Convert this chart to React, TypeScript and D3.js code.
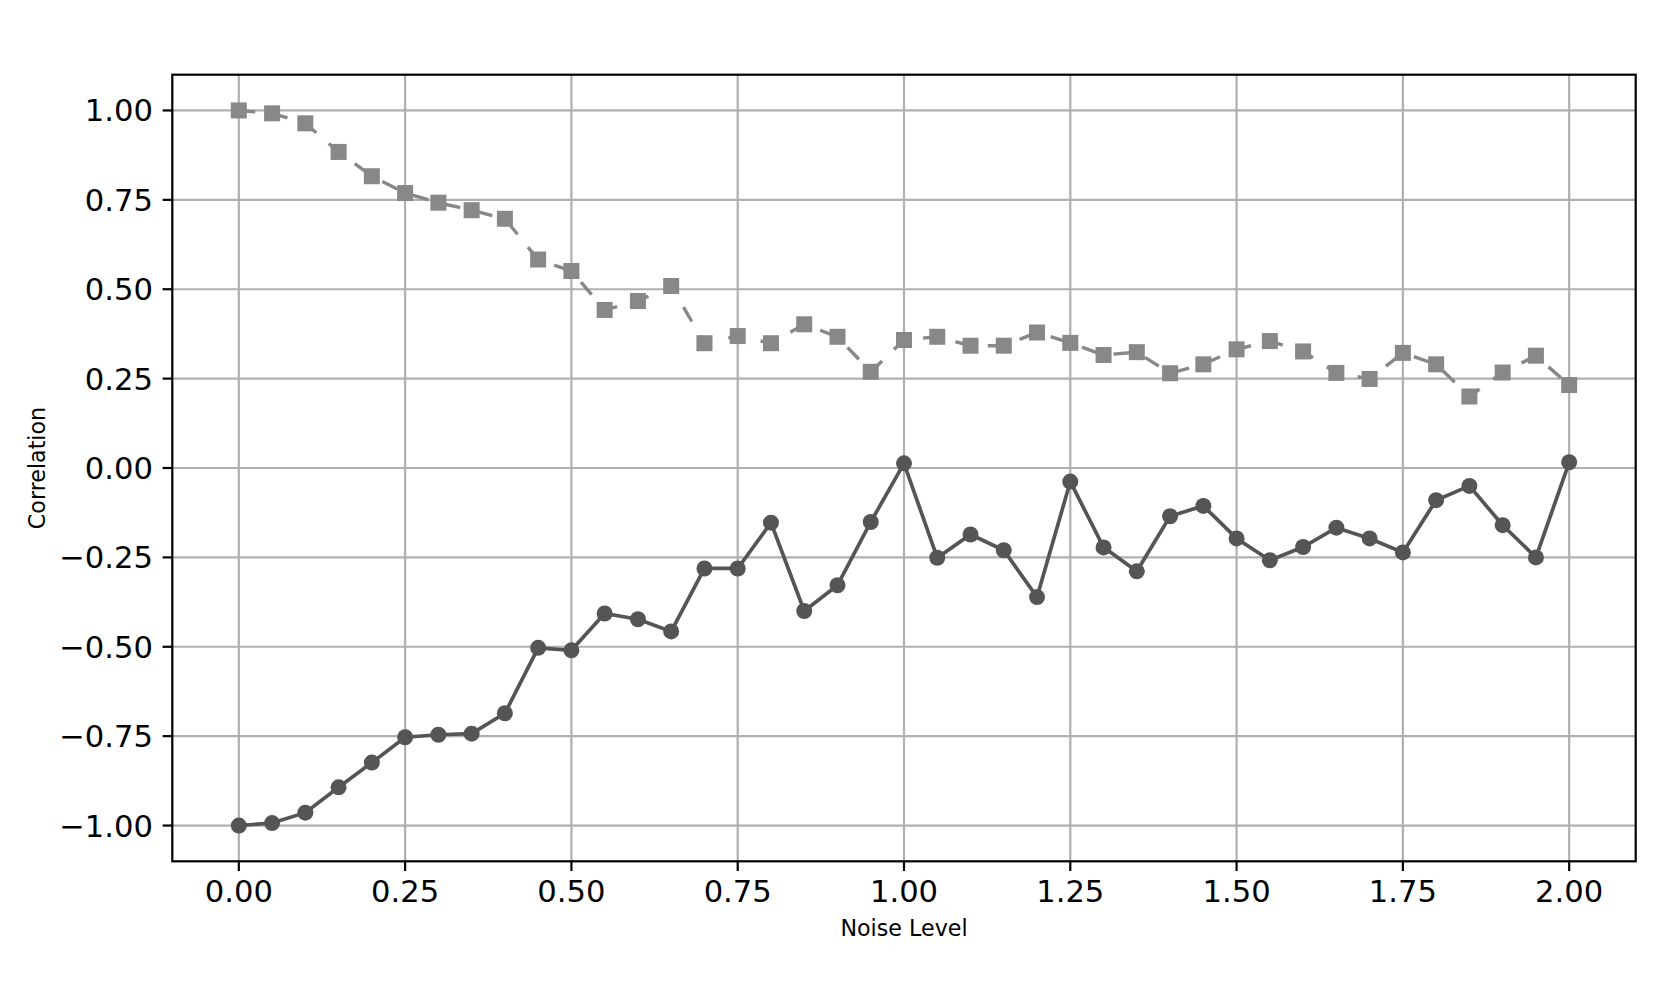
import React from "react";
import * as d3 from "d3";

const noiseLevels: number[] = [
  0.0, 0.05, 0.1, 0.15, 0.2, 0.25, 0.3, 0.35, 0.4, 0.45, 0.5, 0.55, 0.6, 0.65, 0.7, 0.75, 0.8, 0.85, 0.9, 0.95,
  1.0, 1.05, 1.1, 1.15, 1.2, 1.25, 1.3, 1.35, 1.4, 1.45, 1.5, 1.55, 1.6, 1.65, 1.7, 1.75, 1.8, 1.85, 1.9, 1.95, 2.0,
];

const squareSeries: number[] = [
  1.0, 0.992, 0.964, 0.884, 0.816, 0.769, 0.742, 0.721, 0.697, 0.583, 0.551, 0.442, 0.467, 0.509, 0.349, 0.369,
  0.349, 0.402, 0.367, 0.269, 0.358, 0.367, 0.342, 0.342, 0.379, 0.35, 0.316, 0.324, 0.265, 0.29, 0.332, 0.355,
  0.326, 0.266, 0.249, 0.322, 0.29, 0.2, 0.267, 0.314, 0.232,
];

const circleSeries: number[] = [
  -1.0, -0.993, -0.964, -0.893, -0.824, -0.753, -0.746, -0.743, -0.686, -0.503, -0.51, -0.407, -0.423, -0.457,
  -0.281, -0.281, -0.153, -0.4, -0.328, -0.151, 0.013, -0.251, -0.186, -0.23, -0.361, -0.038, -0.222, -0.289,
  -0.135, -0.106, -0.197, -0.258, -0.221, -0.167, -0.197, -0.236, -0.09, -0.05, -0.16, -0.25, 0.016,
];

const xTicks: number[] = [0, 0.25, 0.5, 0.75, 1.0, 1.25, 1.5, 1.75, 2.0];
const yTicks: number[] = [-1.0, -0.75, -0.5, -0.25, 0.0, 0.25, 0.5, 0.75, 1.0];

const xLabel = "Noise Level";
const yLabel = "Correlation";

const W = 1661;
const H = 997;
const left = 172.3;
const right = 1635.7;
const top = 74.7;
const bottom = 861.3;

const font = "'DejaVu Sans', sans-serif";

function fmt(v: number): string {
  const s = v.toFixed(2);
  return v < 0 ? "\u2212" + s.slice(1) : s;
}

export default function App() {
  const x = d3.scaleLinear().domain([-0.1, 2.1]).range([left, right]);
  const y = d3.scaleLinear().domain([-1.1, 1.1]).range([bottom, top]);

  const line = d3
    .line<[number, number]>()
    .x((d) => x(d[0]))
    .y((d) => y(d[1]));

  const sqData: [number, number][] = noiseLevels.map((n, i) => [n, squareSeries[i]]);
  const ciData: [number, number][] = noiseLevels.map((n, i) => [n, circleSeries[i]]);

  const sq = 16;

  return (
    <svg
      width={W}
      height={H}
      style={{ position: "absolute", left: 0, top: 0, display: "block", background: "#fff" }}
    >
      <rect x={0} y={0} width={W} height={H} fill="#fff" />
      <defs>
        <clipPath id="plotclip">
          <rect x={left} y={top} width={right - left} height={bottom - top} />
        </clipPath>
      </defs>
      {/* grid */}
      <g stroke="#b0b0b0" strokeWidth={2.2}>
        {xTicks.map((t) => (
          <line key={"gx" + t} x1={x(t)} x2={x(t)} y1={top} y2={bottom} />
        ))}
        {yTicks.map((t) => (
          <line key={"gy" + t} x1={left} x2={right} y1={y(t)} y2={y(t)} />
        ))}
      </g>
      <g clipPath="url(#plotclip)">
        {/* square series, dashed */}
        <path
          d={line(sqData) || ""}
          fill="none"
          stroke="#888888"
          strokeWidth={3.4}
          strokeDasharray="16.5 16.5"
        />
        {sqData.map((d, i) => (
          <rect key={"s" + i} x={x(d[0]) - sq / 2} y={y(d[1]) - sq / 2} width={sq} height={sq} fill="#888888" />
        ))}
        {/* circle series, solid */}
        <path d={line(ciData) || ""} fill="none" stroke="#555555" strokeWidth={3.7} />
        {ciData.map((d, i) => (
          <circle key={"c" + i} cx={x(d[0])} cy={y(d[1])} r={8} fill="#555555" />
        ))}
      </g>
      {/* spines */}
      <rect x={left} y={top} width={right - left} height={bottom - top} fill="none" stroke="#000" strokeWidth={2.2} />
      {/* x ticks */}
      <g>
        {xTicks.map((t) => (
          <g key={"xt" + t}>
            <line x1={x(t)} x2={x(t)} y1={bottom} y2={bottom + 9.7} stroke="#000" strokeWidth={2.2} />
            <text x={x(t)} y={902.3} textAnchor="middle" fontFamily={font} fontSize={30.6} fill="#000">
              {fmt(t)}
            </text>
          </g>
        ))}
      </g>
      {/* y ticks */}
      <g>
        {yTicks.map((t) => (
          <g key={"yt" + t}>
            <line x1={left - 9.7} x2={left} y1={y(t)} y2={y(t)} stroke="#000" strokeWidth={2.2} />
            <text
              x={left - 19.4}
              y={y(t)}
              dy="0.36em"
              textAnchor="end"
              fontFamily={font}
              fontSize={30.6}
              fill="#000"
            >
              {fmt(t)}
            </text>
          </g>
        ))}
      </g>
      <text x={x(1.0)} y={936} textAnchor="middle" fontFamily={font} fontSize={22.2} fill="#000">
        {xLabel}
      </text>
      <text
        transform={`translate(44.6, ${(top + bottom) / 2}) rotate(-90)`}
        textAnchor="middle"
        fontFamily={font}
        fontSize={22.2}
        fill="#000"
      >
        {yLabel}
      </text>
    </svg>
  );
}
